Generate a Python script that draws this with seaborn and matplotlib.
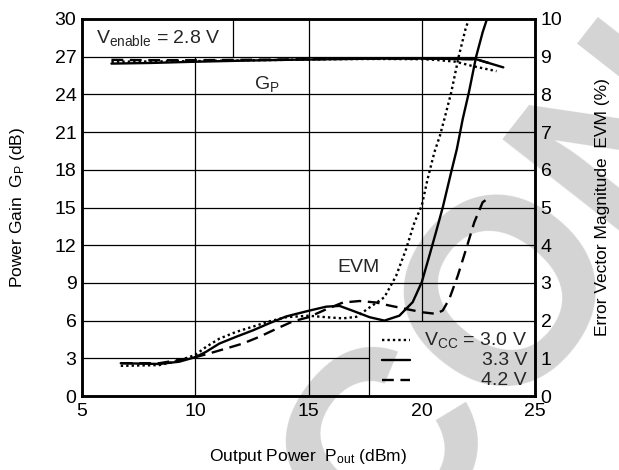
import numpy as np
import pandas as pd
import matplotlib.pyplot as plt
import seaborn as sns

# ---- dados ----
vcc_levels = ["3.0 V", "3.3 V", "4.2 V"]

# Ganho de potencia Gp (dB), eixo esquerdo
gp_x_30 = [6.3, 8, 10, 12, 14, 16, 18, 20, 20.6, 21.5, 22.25, 23.3]
gp_y_30 = [26.6, 26.62, 26.65, 26.7, 26.75, 26.8, 26.82, 26.8, 26.75, 26.6, 26.25, 25.85]
gp_x_33 = [6.3, 8, 10, 12, 14, 16, 18, 20, 22.4, 23.6]
gp_y_33 = [26.45, 26.5, 26.6, 26.68, 26.75, 26.8, 26.85, 26.85, 26.8, 26.15]
gp_x_42 = [6.3, 8, 10, 12, 14, 16, 18, 20, 22.4, 22.95]
gp_y_42 = [26.75, 26.72, 26.72, 26.75, 26.78, 26.82, 26.85, 26.85, 26.8, 26.5]

# EVM (%), eixo direito
evm_x_30 = [6.71, 8.41, 9.29, 10.0, 10.47, 11.06, 11.8, 12.54, 13.27, 14.01, 15.0, 15.78,
            16.52, 17.11, 17.7, 18.35, 18.87, 19.31, 19.68, 20.0, 20.26, 20.56, 20.8,
            21.0, 21.3, 21.63, 21.93, 22.08]
evm_y_30 = [0.8, 0.82, 0.94, 1.09, 1.3, 1.52, 1.7, 1.84, 1.98, 2.09, 2.13, 2.09,
            2.06, 2.1, 2.35, 2.62, 3.19, 3.9, 4.61, 5.05, 5.76, 6.47, 6.9,
            7.35, 8.05, 9.0, 9.73, 10.0]
evm_x_33 = [6.71, 8.41, 9.29, 10.0, 10.47, 11.06, 11.8, 12.54, 13.27, 14.01, 15.0, 15.78,
            16.37, 16.96, 17.7, 18.35, 19.01, 19.6, 20.0, 20.34, 20.63, 20.93, 21.3,
            21.55, 21.81, 22.08, 22.4, 22.69, 22.88]
evm_y_33 = [0.87, 0.85, 0.91, 1.03, 1.17, 1.39, 1.57, 1.74, 1.93, 2.11, 2.26, 2.37,
            2.39, 2.26, 2.09, 2.0, 2.13, 2.49, 3.02, 3.73, 4.35, 5.01, 5.94,
            6.55, 7.35, 8.05, 9.0, 9.65, 10.0]
evm_x_42 = [6.71, 8.41, 10.0, 10.62, 11.36, 12.09, 12.83, 13.57, 14.31, 15.0, 15.78,
            16.52, 17.26, 17.99, 18.57, 19.46, 20.04, 20.63, 20.93, 21.22, 21.59,
            21.96, 22.32, 22.69, 22.95]
evm_y_42 = [0.87, 0.87, 1.03, 1.13, 1.26, 1.39, 1.57, 1.78, 1.98, 2.09, 2.3,
            2.48, 2.52, 2.48, 2.4, 2.29, 2.22, 2.18, 2.27, 2.58, 3.19,
            3.9, 4.61, 5.14, 5.25]

x_ticks = [5, 10, 15, 20, 25]
gp_ticks = list(range(0, 31, 3))
evm_ticks = list(range(0, 11))


def long_df(xs, ys):
    parts = []
    for lvl, x, y in zip(vcc_levels, xs, ys):
        parts.append(pd.DataFrame({"Pout": x, "val": y, "Vcc": lvl}))
    return pd.concat(parts, ignore_index=True)


df_gp = long_df([gp_x_30, gp_x_33, gp_x_42], [gp_y_30, gp_y_33, gp_y_42])
df_evm = long_df([evm_x_30, evm_x_33, evm_x_42], [evm_y_30, evm_y_33, evm_y_42])

dash_map = {"3.0 V": (1, 1.3), "3.3 V": "", "4.2 V": (5, 2.8)}

sns.set_theme(style="white")
plt.rcParams['font.family'] = ['Liberation Sans', 'DejaVu Sans']
plt.rcParams['mathtext.fontset'] = 'custom'
plt.rcParams['mathtext.rm'] = 'Liberation Sans'
plt.rcParams['mathtext.it'] = 'Liberation Sans:italic'
plt.rcParams['mathtext.bf'] = 'Liberation Sans:bold'

fig = plt.figure(figsize=(6.19, 4.70), dpi=100)
fig.patch.set_facecolor("white")

# marca d'agua
fig.text(0.54, -0.12, "CONF", fontsize=190, fontweight="bold",
         color="#d4d4d4", rotation=52, rotation_mode="anchor",
         ha="left", va="center", zorder=-5)

ax = fig.add_axes([0.1325, 0.1574, 0.7318, 0.8022])
ax.set_facecolor("none")
ax2 = ax.twinx()

sns.lineplot(data=df_gp, x="Pout", y="val", style="Vcc", dashes=dash_map,
             color="black", linewidth=1.7, errorbar=None, legend=False, ax=ax)
sns.lineplot(data=df_evm, x="Pout", y="val", style="Vcc", dashes=dash_map,
             color="black", linewidth=1.7, errorbar=None, legend=False, ax=ax2)

ax.set_xlim(5, 25)
ax.set_ylim(0, 30)
ax2.set_ylim(0, 10)
ax.set_xticks(x_ticks)
ax.set_yticks(gp_ticks)
ax2.set_yticks(evm_ticks)

# grade (com recortes das caixas de texto)
gl = dict(color="black", linewidth=0.9, zorder=1)
ax.axvline(10, ymax=0.9, **gl)
ax.axvline(15, **gl)
ax.axvline(20, ymin=0.2, **gl)
ax.axhline(3, xmax=(17.69 - 5) / 20, **gl)
for g in gp_ticks[2:-1]:
    ax.axhline(g, **gl)
ax.vlines(11.68, 27, 30, **gl)
ax.vlines(17.69, 0, 6, **gl)

for a in (ax, ax2):
    for s in a.spines.values():
        s.set_linewidth(1.8)
        s.set_color("black")
    a.tick_params(length=0, labelsize=14, colors="black")
ax.tick_params(axis="y", pad=4)
ax.tick_params(axis="x", pad=5)
ax2.tick_params(axis="y", pad=4)

ax.set_xlabel("Output Power  P$_\\mathrm{out}$ (dBm)", fontsize=12.5, color="black")
ax.set_ylabel("Power Gain  G$_\\mathrm{P}$ (dB)", fontsize=12.5, color="black")
ax2.set_ylabel("Error Vector Magnitude  EVM (%)", fontsize=12.5, color="black")
ax.xaxis.set_label_coords(0.5, -0.135)
ax.yaxis.set_label_coords(-0.121, 0.5)
ax2.yaxis.set_label_coords(1.132, 0.5)

ax.text(8.35, 28.5, "V$_\\mathrm{enable}$ = 2.8 V", fontsize=14, ha="center", va="center")
ax.text(13.17, 24.8, "G$_\\mathrm{P}$", fontsize=14, ha="center", va="center")
ax2.text(17.19, 3.4, "EVM", fontsize=14, ha="center", va="center")

# legenda manual
leg_y = [1.49, 0.95, 0.42]
leg_txt = ["V$_\\mathrm{CC}$ = 3.0 V", "3.3 V", "4.2 V"]
for lvl, yy, t in zip(vcc_levels, leg_y, leg_txt):
    ls = (0, dash_map[lvl]) if dash_map[lvl] else "-"
    ax2.plot([18.25, 19.5], [yy, yy], color="black", linewidth=1.7, linestyle=ls)
    ax2.text(24.65, yy, t, fontsize=14, ha="right", va="center")

fig.savefig("out.png", dpi=100, facecolor="white")
